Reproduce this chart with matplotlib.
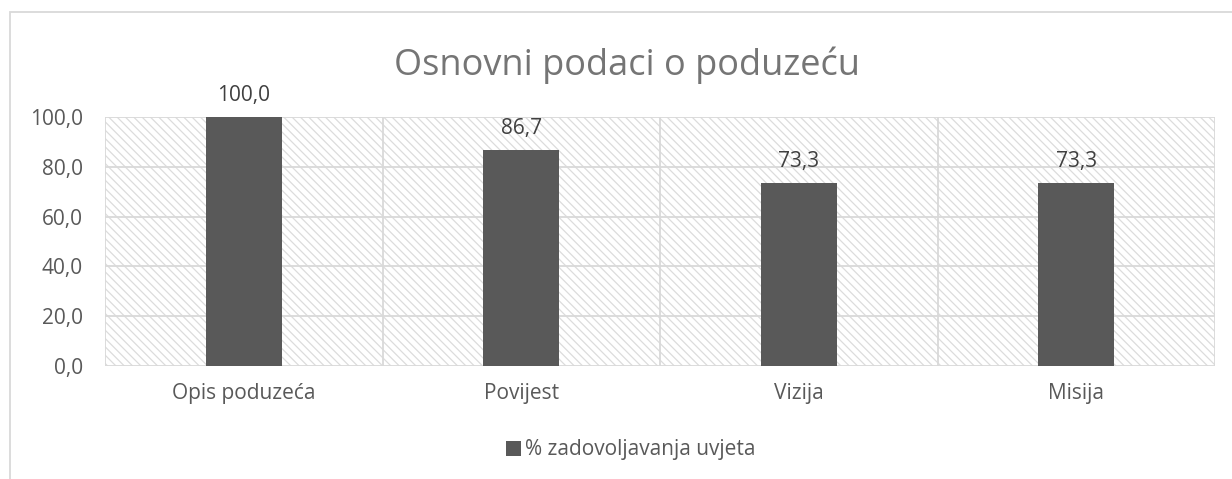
import matplotlib
matplotlib.use("Agg")
import matplotlib.pyplot as plt
from matplotlib.patches import Rectangle
import numpy as np

categories = ["Opis poduzeća", "Povijest", "Vizija", "Misija"]
values = [100.0, 86.7, 73.3, 73.3]
series_name = "% zadovoljavanja uvjeta"
title = "Osnovni podaci o poduzeću"
yticks = [0, 20, 40, 60, 80, 100]

plt.rcParams['font.family'] = ['Open Sans', 'DejaVu Sans']
plt.rcParams['hatch.linewidth'] = 0.9
plt.rcParams['hatch.color'] = '#d9d9d9'

W, H = 1232, 479
fig = plt.figure(figsize=(W/100, H/100), dpi=100)
fig.patch.set_facecolor('white')

# chart frame
fig.patches.append(Rectangle((10/W, -0.1), 1.2, 1 - 12/H + 0.1, transform=fig.transFigure,
                             fill=False, edgecolor='#d9d9d9', linewidth=1.3))

ax = fig.add_axes([105/W, 1 - 366/H, (1215-105)/W, (366-117)/H])
ax.set_facecolor('white')
ax.patch.set_hatch('\\\\\\\\')
ax.patch.set_edgecolor('#dcdcdc')
ax.patch.set_linewidth(0)

x = np.arange(len(categories))
bars = ax.bar(x, values, width=0.275, color='#595959', zorder=3, label=series_name)

ax.set_xlim(-0.5, len(categories) - 0.5)
ax.set_ylim(0, 100)
ax.set_yticks(yticks)
ax.set_yticklabels([f"{v:.1f}".replace('.', ',') for v in yticks])
ax.set_xticks(x)
ax.set_xticklabels(categories)
ax.tick_params(axis='both', length=0, labelsize=15, colors='#595959')
ax.tick_params(axis='x', pad=12)
ax.tick_params(axis='y', pad=16)

for yv in yticks:
    ax.axhline(yv, color='#d9d9d9', linewidth=1.3, zorder=1)
for xv in np.arange(-0.5, len(categories), 1.0):
    ax.axvline(xv, color='#d9d9d9', linewidth=1.3, zorder=1)

for s in ax.spines.values():
    s.set_visible(False)

for xi, v in zip(x, values):
    ax.annotate(f"{v:.1f}".replace('.', ','), (xi, v), xytext=(0, 8),
                textcoords='offset points', ha='center', va='bottom',
                fontsize=15, color='#404040')

fig.text(627/W, 1 - 75/H, title, ha='center', va='baseline', fontsize=26, color='#757575')

leg = fig.legend(handles=[bars], labels=[series_name], loc='center',
                 bbox_to_anchor=(631/W, 1 - 450/H), frameon=False, fontsize=15,
                 handlelength=0.7, handleheight=0.7, handletextpad=0.2, borderpad=0)
for t in leg.get_texts():
    t.set_color('#595959')

fig.savefig("out.png", dpi=100)
